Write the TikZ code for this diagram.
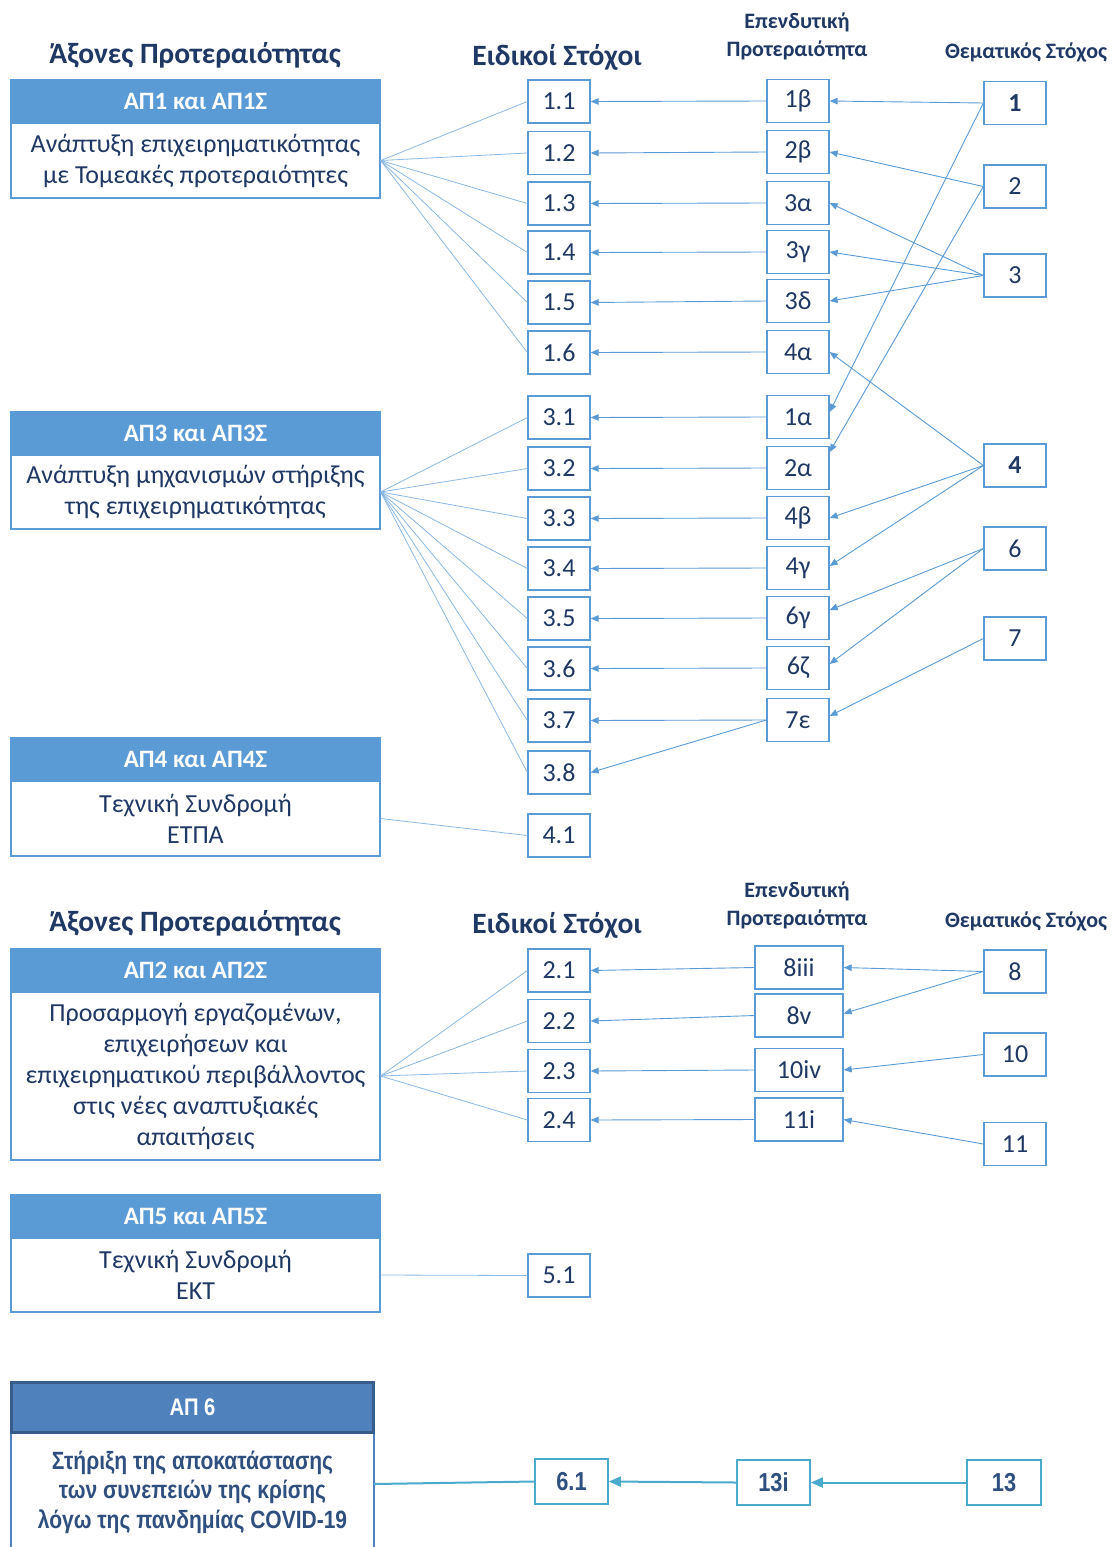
\documentclass[tikz,border=0pt]{standalone}
\usepackage{fontspec}
\setmainfont{Carlito}
\newfontfamily\narrowfont[FakeStretch=0.84]{Liberation Sans}
\usetikzlibrary{arrows.meta,calc}
\definecolor{navy}{HTML}{1F3864}
\definecolor{boxblue}{HTML}{5B9BD5}
\definecolor{headblue}{HTML}{5B9BD5}
\definecolor{fanblue}{HTML}{8CB9E4}
\definecolor{arrblue}{HTML}{5B9BD5}
\definecolor{sixhead}{HTML}{4F81BD}
\definecolor{sixborder}{HTML}{385D8A}
\definecolor{sixtext}{HTML}{2F4F7F}
\definecolor{tealb}{HTML}{4AAACB}
\tikzset{
  sbox/.style={draw=boxblue, line width=1.3pt, minimum width=62pt, minimum height=43pt, inner sep=0pt, text=navy, font=\fontsize{26}{30}\selectfont},
  wbox/.style={sbox, minimum width=88pt},
  aphead/.style={draw=boxblue, fill=headblue, line width=1.3pt, minimum width=369pt, minimum height=43pt, inner sep=0pt, text=white, font=\bfseries\fontsize{25}{28}\selectfont},
  apbody/.style={draw=boxblue, line width=1.3pt, minimum width=369pt, inner sep=0pt, text=navy, align=center, font=\fontsize{26}{31}\selectfont},
  heading/.style={text=navy, inner sep=0pt, font=\bfseries\fontsize{29.5}{32}\selectfont},
  subheading/.style={text=navy, inner sep=0pt, align=center, font=\bfseries\fontsize{22}{28}\selectfont},
  fan/.style={draw=fanblue, line width=0.8pt},
  arr/.style={draw=arrblue, line width=0.9pt, -{Triangle[length=8pt,width=6.5pt]}},
  tbox/.style={draw=tealb, line width=1.6pt, minimum width=73pt, minimum height=45pt, inner sep=0pt, text=sixtext, font=\narrowfont\bfseries\fontsize{26}{30}\selectfont},
  tarr/.style={draw=tealb, line width=2pt, -{Triangle[length=12pt,width=10pt]}},
}
\begin{document}
\begin{tikzpicture}[x=1pt,y=-1pt]
\useasboundingbox (0,0) rectangle (1115,1547);
\fill[white] (0,0) rectangle (1115,1547);

% ---------- headings, section 1
\node[heading] (h1) at (195,55) {Άξονες Προτεραιότητας};
\node[heading] (h2) at (557,57) {Ειδικοί Στόχοι};
\node[subheading] (h3) at (797,36) {Επενδυτική\\Προτεραιότητα};
\node[subheading] (h4) at (1026,52) {Θεματικός Στόχος};

% ---------- AP boxes section 1
\node[aphead] (ap1h) at (195.5,101.5) {ΑΠ1 και ΑΠ1Σ};
\node[apbody, minimum height=75pt] (ap1) at (195.5,160.5) {Ανάπτυξη επιχειρηματικότητας\\με Τομεακές προτεραιότητες};
\node[aphead] (ap3h) at (195.5,433.5) {ΑΠ3 και ΑΠ3Σ};
\node[apbody, minimum height=74pt] (ap3) at (195.5,492) {Ανάπτυξη μηχανισμών στήριξης\\της επιχειρηματικότητας};
\node[aphead] (ap4h) at (195.5,759.5) {ΑΠ4 και ΑΠ4Σ};
\node[apbody, minimum height=75pt] (ap4) at (195.5,818.5) {Τεχνική Συνδρομή\\ΕΤΠΑ};

% ---------- column 1
\node[sbox] (s11) at (559,101.5) {1.1};
\node[sbox] (s12) at (559,153) {1.2};
\node[sbox] (s13) at (559,203.5) {1.3};
\node[sbox] (s14) at (559,252.5) {1.4};
\node[sbox] (s15) at (559,302.5) {1.5};
\node[sbox] (s16) at (559,352.5) {1.6};
\node[sbox] (s31) at (559,417.5) {3.1};
\node[sbox] (s32) at (559,468.5) {3.2};
\node[sbox] (s33) at (559,518.5) {3.3};
\node[sbox] (s34) at (559,568.5) {3.4};
\node[sbox] (s35) at (559,618.5) {3.5};
\node[sbox] (s36) at (559,668.5) {3.6};
\node[sbox] (s37) at (559,720.5) {3.7};
\node[sbox] (s38) at (559,772.5) {3.8};
\node[sbox] (s41) at (559,835.5) {4.1};

% ---------- column 2
\node[sbox] (p1b) at (798,101) {1β};
\node[sbox] (p2b) at (798,152) {2β};
\node[sbox] (p3a) at (798,203) {3α};
\node[sbox] (p3g) at (798,252) {3γ};
\node[sbox] (p3d) at (798,301) {3δ};
\node[sbox] (p4a) at (798,352) {4α};
\node[sbox] (p1a) at (798,417) {1α};
\node[sbox] (p2a) at (798,468) {2α};
\node[sbox] (p4b) at (798,518) {4β};
\node[sbox] (p4g) at (798,568) {4γ};
\node[sbox] (p6g) at (798,618) {6γ};
\node[sbox] (p6z) at (798,668) {6ζ};
\node[sbox] (p7e) at (798,720) {7ε};

% ---------- column 3
\node[sbox, font=\bfseries\fontsize{26}{30}\selectfont] (t1) at (1015,103) {1};
\node[sbox] (t2) at (1015,186.5) {2};
\node[sbox] (t3) at (1015,275.5) {3};
\node[sbox, font=\bfseries\fontsize{26}{30}\selectfont] (t4) at (1015,465.5) {4};
\node[sbox] (t6) at (1015,548.5) {6};
\node[sbox] (t7) at (1015,638.5) {7};

% ---------- fans
\foreach \n in {s11,s12,s13,s14,s15,s16} \draw[fan] (ap1.east) -- (\n.west);
\foreach \n in {s31,s32,s33,s34,s35,s36,s37,s38} \draw[fan] (ap3.east) -- (\n.west);
\draw[fan] (ap4.east) -- (s41.west);

% ---------- column 2 -> column 1
\draw[arr] (p1b.west) -- (s11.east);
\draw[arr] (p2b.west) -- (s12.east);
\draw[arr] (p3a.west) -- (s13.east);
\draw[arr] (p3g.west) -- (s14.east);
\draw[arr] (p3d.west) -- (s15.east);
\draw[arr] (p4a.west) -- (s16.east);
\draw[arr] (p1a.west) -- (s31.east);
\draw[arr] (p2a.west) -- (s32.east);
\draw[arr] (p4b.west) -- (s33.east);
\draw[arr] (p4g.west) -- (s34.east);
\draw[arr] (p6g.west) -- (s35.east);
\draw[arr] (p6z.west) -- (s36.east);
\draw[arr] (p7e.west) -- (s37.east);
\draw[arr] (p7e.west) -- (s38.east);

% ---------- column 3 -> column 2
\draw[arr] (t1.west) -- (p1b.east);
\draw[arr] (t1.west) -- ([yshift=5pt]p1a.east);
\draw[arr] (t2.west) -- (p2b.east);
\draw[arr] (t2.west) -- ([yshift=16pt]p2a.east);
\draw[arr] (t3.west) -- (p3a.east);
\draw[arr] (t3.west) -- (p3g.east);
\draw[arr] (t3.west) -- (p3d.east);
\draw[arr] (t4.west) -- (p4a.east);
\draw[arr] (t4.west) -- (p4b.east);
\draw[arr] (t4.west) -- ([yshift=2pt]p4g.east);
\draw[arr] (t6.west) -- ([yshift=8pt]p6g.east);
\draw[arr] (t6.west) -- ([yshift=4pt]p6z.east);
\draw[arr] (t7.west) -- ([yshift=4pt]p7e.east);

% ---------- headings, section 2
\node[heading] (h5) at (195,923) {Άξονες Προτεραιότητας};
\node[heading] (h6) at (557,925) {Ειδικοί Στόχοι};
\node[subheading] (h7) at (797,905) {Επενδυτική\\Προτεραιότητα};
\node[subheading] (h8) at (1026,921) {Θεματικός Στόχος};

\node[aphead] (ap2h) at (195.5,970) {ΑΠ2 και ΑΠ2Σ};
\node[apbody, minimum height=168pt] (ap2) at (195.5,1076) {Προσαρμογή εργαζομένων,\\επιχειρήσεων και\\επιχειρηματικού περιβάλλοντος\\στις νέες αναπτυξιακές\\απαιτήσεις};
\node[aphead] (ap5h) at (195.5,1216) {ΑΠ5 και ΑΠ5Σ};
\node[apbody, minimum height=74pt] (ap5) at (195.5,1275) {Τεχνική Συνδρομή\\ΕΚΤ};

\node[sbox] (s21) at (559,970.5) {2.1};
\node[sbox] (s22) at (559,1021) {2.2};
\node[sbox] (s23) at (559,1071) {2.3};
\node[sbox] (s24) at (559,1120) {2.4};
\node[sbox] (s51) at (559,1275.5) {5.1};

\node[wbox] (p8iii) at (799,967.5) {8iii};
\node[wbox] (p8v) at (799,1015.5) {8v};
\node[wbox] (p10iv) at (799,1070) {10iv};
\node[wbox] (p11i) at (799,1119.5) {11i};

\node[sbox] (t8) at (1015,971.5) {8};
\node[sbox] (t10) at (1015,1054.5) {10};
\node[sbox] (t11) at (1015,1144) {11};

\foreach \n in {s21,s22,s23,s24} \draw[fan] (ap2.east) -- (\n.west);
\draw[fan] (ap5.east) -- (s51.west);

\draw[arr] (p8iii.west) -- (s21.east);
\draw[arr] (p8v.west) -- (s22.east);
\draw[arr] (p10iv.west) -- (s23.east);
\draw[arr] (p11i.west) -- (s24.east);

\draw[arr] (t8.west) -- (p8iii.east);
\draw[arr] (t8.west) -- ([yshift=2pt]p8v.east);
\draw[arr] (t10.west) -- (p10iv.east);
\draw[arr] (t11.west) -- (p11i.east);

% ---------- AP6
\draw[draw=sixhead, line width=1.5pt] (11,1555) -- (11,1432) -- (374,1432) -- (374,1555);
\node[draw=sixborder, fill=sixhead, line width=3pt, minimum width=362pt, minimum height=50pt, inner sep=0pt, text=white, font=\narrowfont\bfseries\fontsize{24}{28}\selectfont] (ap6h) at (192.5,1407) {ΑΠ 6};
\node[text=sixtext, align=center, inner sep=0pt, font=\narrowfont\bfseries\fontsize{25}{29.5}\selectfont] (ap6) at (192.5,1492) {Στήριξη της αποκατάστασης\\των συνεπειών της κρίσης\\λόγω της πανδημίας COVID-19};
\coordinate (ap6e) at (374,1484);

\node[tbox] (s61) at (571.5,1481.5) {6.1};
\node[tbox] (p13i) at (773.5,1482.5) {13i};
\node[tbox, minimum width=74pt] (t13) at (1004,1482.5) {13};

\draw[draw=tealb, line width=2pt] (ap6e) -- (s61.west);
\draw[tarr] (p13i.west) -- (s61.east);
\draw[tarr] (t13.west) -- (p13i.east);
\end{tikzpicture}
\end{document}
